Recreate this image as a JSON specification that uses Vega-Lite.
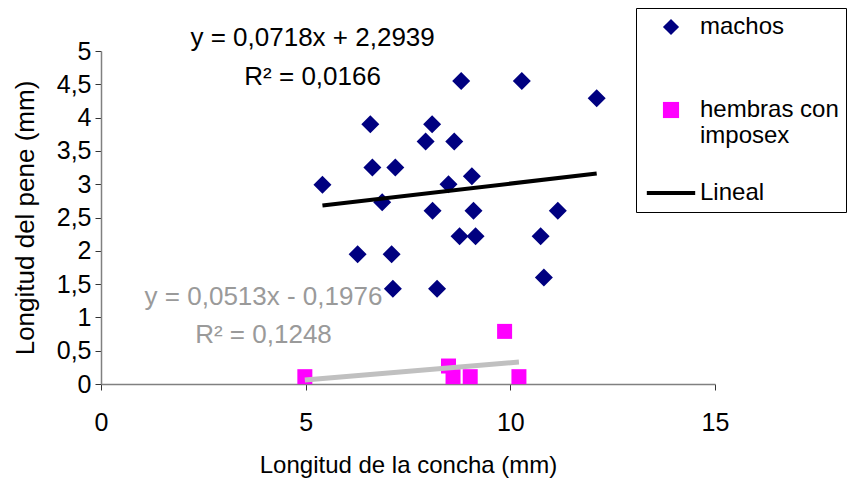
{
  "$schema": "https://vega.github.io/schema/vega-lite/v6.json",
  "width": 614,
  "height": 333,
  "autosize": "none",
  "padding": {"left": 101, "top": 51, "right": 140, "bottom": 98},
  "background": "white",
  "config": {
    "view": {"stroke": null},
    "font": "Liberation Sans",
    "axis": {
      "grid": false,
      "domainColor": "#808080",
      "domainWidth": 1.5,
      "tickColor": "#333333",
      "tickSize": 6,
      "labelFontSize": 25,
      "labelColor": "black",
      "labelOverlap": false,
      "labelFlush": false,
      "titleFontWeight": "normal",
      "titleColor": "black"
    }
  },
  "datasets": {
    "machos": [
      {"grupo": "machos", "concha": 8.80, "pene": 4.55},
      {"grupo": "machos", "concha": 10.28, "pene": 4.55},
      {"grupo": "machos", "concha": 12.11, "pene": 4.29},
      {"grupo": "machos", "concha": 6.58, "pene": 3.90},
      {"grupo": "machos", "concha": 8.09, "pene": 3.90},
      {"grupo": "machos", "concha": 7.93, "pene": 3.64},
      {"grupo": "machos", "concha": 8.63, "pene": 3.64},
      {"grupo": "machos", "concha": 6.63, "pene": 3.25},
      {"grupo": "machos", "concha": 7.19, "pene": 3.25},
      {"grupo": "machos", "concha": 5.41, "pene": 2.99},
      {"grupo": "machos", "concha": 8.49, "pene": 3.00},
      {"grupo": "machos", "concha": 9.06, "pene": 3.12},
      {"grupo": "machos", "concha": 6.87, "pene": 2.73},
      {"grupo": "machos", "concha": 8.10, "pene": 2.60},
      {"grupo": "machos", "concha": 9.10, "pene": 2.60},
      {"grupo": "machos", "concha": 11.16, "pene": 2.60},
      {"grupo": "machos", "concha": 8.76, "pene": 2.22},
      {"grupo": "machos", "concha": 9.15, "pene": 2.22},
      {"grupo": "machos", "concha": 10.74, "pene": 2.22},
      {"grupo": "machos", "concha": 6.27, "pene": 1.95},
      {"grupo": "machos", "concha": 7.10, "pene": 1.95},
      {"grupo": "machos", "concha": 10.82, "pene": 1.60},
      {"grupo": "machos", "concha": 7.13, "pene": 1.43},
      {"grupo": "machos", "concha": 8.21, "pene": 1.43}
    ],
    "hembras": [
      {"grupo": "hembras con imposex", "concha": 4.98, "pene": 0.11},
      {"grupo": "hembras con imposex", "concha": 8.49, "pene": 0.27},
      {"grupo": "hembras con imposex", "concha": 8.60, "pene": 0.11},
      {"grupo": "hembras con imposex", "concha": 9.02, "pene": 0.11},
      {"grupo": "hembras con imposex", "concha": 9.86, "pene": 0.79},
      {"grupo": "hembras con imposex", "concha": 10.21, "pene": 0.11}
    ],
    "lineal_machos": [
      {"concha": 5.41, "pene": 2.68},
      {"concha": 12.11, "pene": 3.16}
    ],
    "lineal_hembras": [
      {"concha": 4.98, "pene": 0.06},
      {"concha": 10.21, "pene": 0.33}
    ],
    "ecuaciones": [
      {"texto": "y = 0,0718x + 2,2939", "concha": 5.17, "pene": 5.19, "serie": "machos"},
      {"texto": "R² = 0,0166", "concha": 5.17, "pene": 4.61, "serie": "machos"},
      {"texto": "y = 0,0513x - 0,1976", "concha": 3.97, "pene": 1.31, "serie": "hembras"},
      {"texto": "R² = 0,1248", "concha": 3.97, "pene": 0.74, "serie": "hembras"}
    ]
  },
  "encoding": {
    "x": {
      "field": "concha", "type": "quantitative",
      "scale": {"domain": [0, 15], "nice": false, "zero": false},
      "axis": {"values": [0, 5, 10, 15], "format": "d", "title": "Longitud de la concha (mm)", "titleFontSize": 24, "labelPadding": 20, "titlePadding": 18}
    },
    "y": {
      "field": "pene", "type": "quantitative",
      "scale": {"domain": [0, 5], "nice": false},
      "axis": {
        "values": [0, 0.5, 1, 1.5, 2, 2.5, 3, 3.5, 4, 4.5, 5],
        "format": ".1~f",
        "labelExpr": "replace(datum.label, '.', ',')",
        "title": "Longitud del pene (mm)", "titleFontSize": 26, "labelPadding": 4, "titlePadding": 18
      }
    }
  },
  "layer": [
    {
      "data": {"name": "machos"},
      "mark": {"type": "point", "filled": true, "opacity": 1, "size": 324},
      "encoding": {
        "color": {
          "field": "grupo", "type": "nominal",
          "scale": {"domain": ["machos", "hembras con imposex", "Lineal"], "range": ["#000080", "#FF00FF", "#000000"]},
          "legend": {
            "orient": "none",
            "legendX": 535,
            "legendY": -43,
            "title": null,
            "strokeColor": "black",
            "fillColor": "white",
            "padding": 7,
            "symbolOffset": 16,
            "labelFontSize": 24,
            "labelLimit": 400,
            "labelOffset": 17,
            "labelBaseline": "middle",
            "symbolSize": 260,
            "rowPadding": 33,
            "labelExpr": "datum.label === 'hembras con imposex' ? ['hembras con', 'imposex'] : (datum.label === 'machos' ? ['machos', ' '] : datum.label)",
            "encode": {
              "labels": {"update": {"lineHeight": {"value": 28}}}
            }
          }
        },
        "shape": {
          "field": "grupo", "type": "nominal",
          "scale": {"domain": ["machos", "hembras con imposex", "Lineal"], "range": ["diamond", "square", "M-3,-0.25H3V0.25H-3Z"]}
        }
      }
    },
    {
      "data": {"name": "hembras"},
      "mark": {"type": "point", "filled": true, "opacity": 1, "size": 225},
      "encoding": {
        "color": {"field": "grupo", "type": "nominal"},
        "shape": {"field": "grupo", "type": "nominal"}
      }
    },
    {
      "data": {"name": "lineal_machos"},
      "mark": {"type": "line", "color": "black", "strokeWidth": 4},
      "encoding": {}
    },
    {
      "data": {"name": "lineal_hembras"},
      "mark": {"type": "line", "color": "#C0C0C0", "strokeWidth": 5},
      "encoding": {}
    },
    {
      "data": {"name": "ecuaciones"},
      "mark": {"type": "text", "fontSize": 26, "align": "center", "baseline": "middle"},
      "encoding": {
        "text": {"field": "texto"},
        "color": {
          "condition": {"test": "datum.serie === 'hembras'", "value": "#9A9A9A"},
          "value": "black"
        }
      }
    }
  ]
}
